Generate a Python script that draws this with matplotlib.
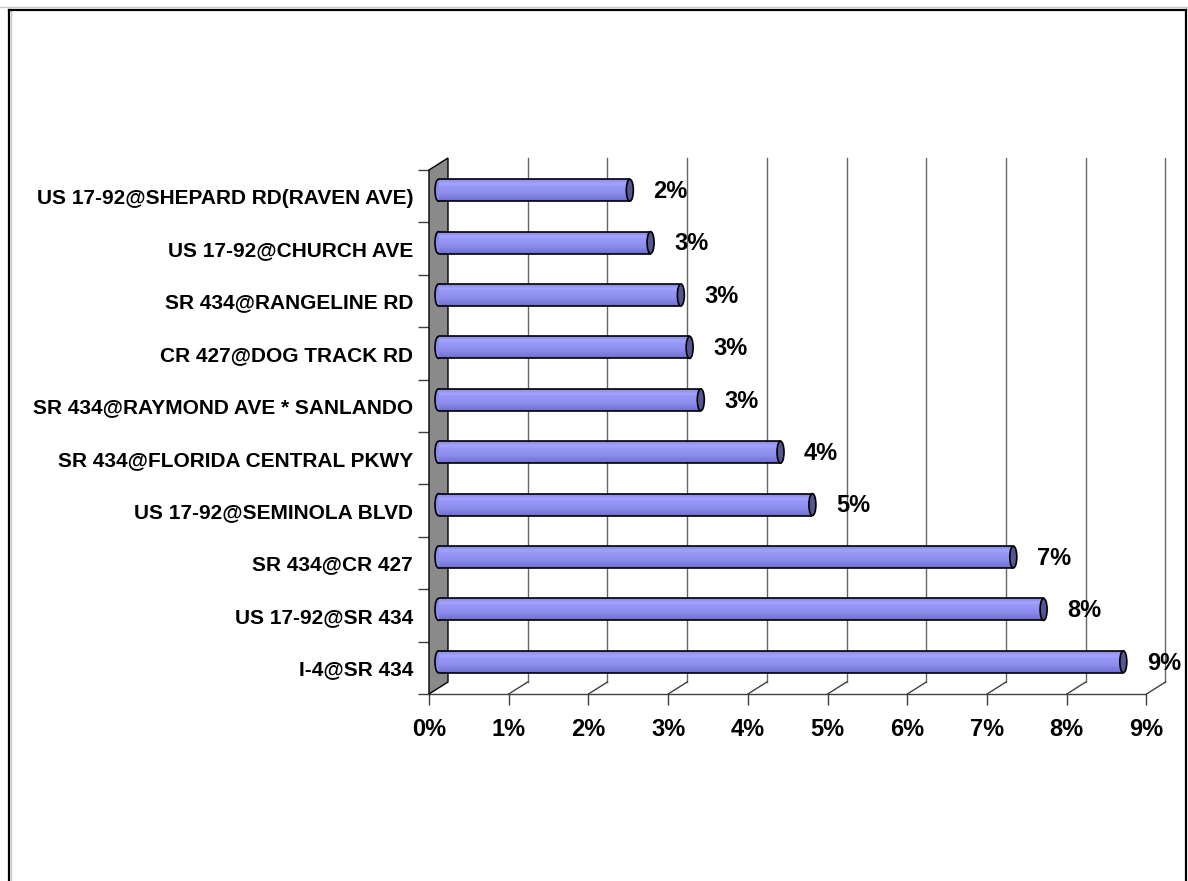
import matplotlib
matplotlib.use("Agg")
import matplotlib.pyplot as plt
import numpy as np
from matplotlib.patches import Ellipse, Polygon
from matplotlib.lines import Line2D
from matplotlib.colors import LinearSegmentedColormap

# ---------------- data ----------------
categories = [
    "I-4@SR 434",
    "US 17-92@SR 434",
    "SR 434@CR 427",
    "US 17-92@SEMINOLA BLVD",
    "SR 434@FLORIDA CENTRAL PKWY",
    "SR 434@RAYMOND AVE * SANLANDO",
    "CR 427@DOG TRACK RD",
    "SR 434@RANGELINE RD",
    "US 17-92@CHURCH AVE",
    "US 17-92@SHEPARD RD(RAVEN AVE)",
]
values = [8.59, 7.59, 7.21, 4.69, 4.29, 3.29, 3.15, 3.04, 2.66, 2.40]
x_ticks = [0, 1, 2, 3, 4, 5, 6, 7, 8, 9]
x_tick_labels = ["0%", "1%", "2%", "3%", "4%", "5%", "6%", "7%", "8%", "9%"]

plt.rcParams["font.family"] = ["Liberation Sans", "DejaVu Sans"]
plt.rcParams["font.weight"] = "bold"

W, H = 1188, 881
fig = plt.figure(figsize=(W / 100, H / 100), dpi=100)

# front plane geometry (pixels)
px0, px9 = 429.0, 1146.5
py_bot, py_top = 694.0, 170.0
ax = fig.add_axes([px0 / W, 1 - py_bot / H, (px9 - px0) / W, (py_bot - py_top) / H])
ax.set_xlim(0, 9)
ax.set_ylim(-0.5, len(categories) - 0.5)
sx = (px9 - px0) / 9.0
sy = (py_bot - py_top) / len(categories)
DX = 19.0 / sx   # depth offset in data units
DY = 12.0 / sy

for s in ax.spines.values():
    s.set_visible(False)
ax.patch.set_visible(False)

ylo, yhi = -0.5, len(categories) - 0.5

# back wall gridlines
for k in x_ticks[1:]:
    ax.plot([k + DX, k + DX], [ylo + DY, yhi + DY], color="#666666", lw=1.0,
            clip_on=False, zorder=1)
# floor diagonals
for k in x_ticks[1:]:
    ax.plot([k, k + DX], [ylo, ylo + DY], color="#404040", lw=1.0,
            clip_on=False, zorder=1)
# front axis line
ax.plot([0, 9], [ylo, ylo], color="#404040", lw=1.0, clip_on=False, zorder=1)

# side wall
wall = Polygon([(0, ylo), (DX, ylo + DY), (DX, yhi + DY), (0, yhi)],
               closed=True, facecolor="#8a8a8a", edgecolor="black", lw=1.0,
               clip_on=False, zorder=2)
ax.add_patch(wall)

# ticks
ax.set_xticks(x_ticks)
ax.set_xticklabels(x_tick_labels, fontsize=17, fontweight="bold")
ax.tick_params(axis="x", length=8, width=1, color="#404040", pad=9, direction="out")
y_pos = np.arange(len(categories))
ax.set_yticks(y_pos)
ax.set_yticklabels(categories, fontsize=15, fontweight="bold")
ax.tick_params(axis="y", which="major", length=0, pad=11.5)
ax.set_yticks(np.arange(len(categories) + 1) - 0.5, minor=True)
ax.tick_params(axis="y", which="minor", length=8, width=1, color="#404040", direction="out")

# cylinders
bar_h = 22.0 / sy
cap_w = 7.0 / sx
x0 = DX / 2
yc = y_pos + DY / 2
body_col = "#9090F0"
cmap = LinearSegmentedColormap.from_list(
    "cyl",
    [(0.0, "#8888e6"), (0.2, "#a4a4ff"), (0.32, "#9898f8"),
     (0.65, "#8c8cec"), (1.0, "#6e6ece")])
grad = np.linspace(0, 1, 64).reshape(-1, 1)

for i, v in enumerate(values):
    ax.add_patch(Ellipse((x0, yc[i]), cap_w, bar_h, facecolor="#8c8cec",
                         edgecolor="black", lw=1.2, clip_on=False, zorder=3))
bars = ax.barh(yc, values, left=x0, height=bar_h, color=body_col,
               edgecolor="none", zorder=4, clip_on=False)
for i, (b, v) in enumerate(zip(bars, values)):
    im = ax.imshow(grad, extent=[x0, x0 + v, yc[i] - bar_h / 2, yc[i] + bar_h / 2],
                   cmap=cmap, aspect="auto", origin="upper", zorder=4.5,
                   interpolation="bilinear")
    im.set_clip_path(b)
    ax.plot([x0, x0 + v], [yc[i] + bar_h / 2] * 2, color="black", lw=1.2,
            zorder=5, clip_on=False, solid_capstyle="butt")
    ax.plot([x0, x0 + v], [yc[i] - bar_h / 2] * 2, color="black", lw=1.2,
            zorder=5, clip_on=False, solid_capstyle="butt")
    ax.add_patch(Ellipse((x0 + v, yc[i]), cap_w, bar_h, facecolor="#55558f",
                         edgecolor="black", lw=1.2, clip_on=False, zorder=6))
    ax.annotate(f"{v:.0f}%", xy=(x0 + v, yc[i]), xytext=(17, -1),
                textcoords="offset points", ha="left", va="center",
                fontsize=17, fontweight="bold", zorder=7, annotation_clip=False)

ax.set_xlim(0, 9)
ax.set_ylim(ylo, yhi)

# outer border
def fx(p):
    return p / W

def fy(p):
    return 1 - p / H

fig.add_artist(Line2D([0, 1], [fy(7), fy(7)], color="#c8c8c8", lw=1.0))
fig.add_artist(Line2D([fx(10.5), fx(10.5)], [0, fy(9)], color="#c8c8c8", lw=1.0))
fig.add_artist(Line2D([fx(8.5), fx(8.5)], [0, fy(9.5)], color="black", lw=1.6))
fig.add_artist(Line2D([fx(8.5), fx(1186)], [fy(9.5), fy(9.5)], color="black", lw=1.6))
fig.add_artist(Line2D([fx(1186), fx(1186)], [0, fy(9.5)], color="black", lw=1.6))

fig.savefig("out.png", dpi=100, facecolor="white")
